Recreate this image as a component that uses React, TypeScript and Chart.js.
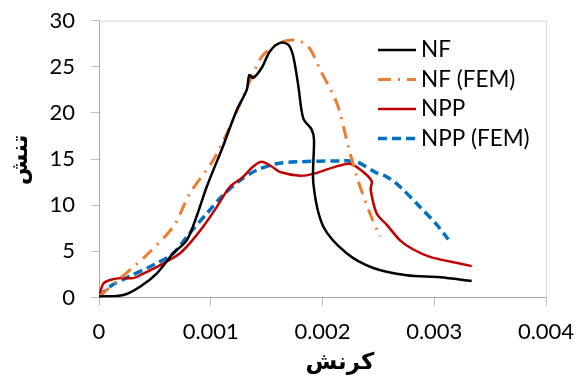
import React, { useEffect, useRef } from "react";
import { Chart, registerables } from "chart.js";

Chart.register(...registerables);

const seriesNames = ["NF", "NF (FEM)", "NPP", "NPP (FEM)"];
const seriesColors = ["#000000", "#ED7D31", "#C00000", "#0070C0"];

const nfStrain = [0, 0.000218, 0.000367, 0.000516, 0.000665, 0.000785, 0.000874, 0.000964, 0.00111, 0.001232, 0.001322, 0.001345, 0.00138, 0.001456, 0.00153, 0.00162, 0.001694, 0.001739, 0.001784, 0.001828, 0.001903, 0.001924, 0.001918, 0.002007, 0.002216, 0.002455, 0.002753, 0.00305, 0.003335];
const nfStress = [0.1, 0.27, 1.17, 2.6, 4.8, 6.2, 8.8, 12.0, 16.4, 20.3, 22.5, 24.1, 23.8, 24.9, 26.7, 27.6, 27.4, 26.1, 22.9, 19.4, 18.2, 17.1, 12.4, 7.7, 4.8, 3.2, 2.4, 2.2, 1.8];

const nfFemStrain = [0, 0.000277, 0.000427, 0.000665, 0.000814, 0.001023, 0.001172, 0.001291, 0.00138, 0.00147, 0.00162, 0.001754, 0.001873, 0.001978, 0.002127, 0.002216, 0.002306, 0.002425, 0.002515];
const nfFemStress = [0.1, 3.0, 4.6, 7.7, 11.3, 14.9, 18.5, 21.8, 24.3, 26.3, 27.6, 27.9, 27.2, 24.7, 21.1, 17.1, 13.1, 9.1, 6.6];

const nppStrain = [0, 0.0000385, 0.0000984, 0.000188, 0.000307, 0.000397, 0.000516, 0.000635, 0.000725, 0.000814, 0.000933, 0.001053, 0.001172, 0.001291, 0.00138, 0.001456, 0.001545, 0.00162, 0.001799, 0.001918, 0.002097, 0.002246, 0.002365, 0.00244, 0.002431, 0.002485, 0.002574, 0.002694, 0.002813, 0.002962, 0.003141, 0.003335];
const nppStress = [0.1, 1.5, 1.9, 2.1, 2.1, 2.6, 3.3, 4.1, 4.8, 5.9, 7.7, 9.8, 12.0, 13.1, 14.2, 14.7, 14.2, 13.6, 13.2, 13.4, 14.1, 14.5, 13.6, 12.6, 11.7, 9.1, 7.9, 6.2, 5.2, 4.4, 3.9, 3.4];

const nppFemStrain = [0, 0.0000984, 0.000277, 0.000516, 0.000665, 0.000814, 0.000964, 0.00111, 0.001262, 0.001411, 0.00159, 0.001769, 0.002157, 0.002306, 0.002485, 0.002574, 0.002694, 0.002873, 0.003022, 0.003126];
const nppFemStress = [0.1, 1.2, 2.3, 3.7, 4.8, 7.0, 9.1, 11.1, 12.7, 13.8, 14.5, 14.7, 14.8, 14.7, 13.5, 13.1, 12.0, 9.8, 7.9, 6.3];

const xTickValues = [0, 0.001, 0.002, 0.003, 0.004];
const yTickValues = [0, 5, 10, 15, 20, 25, 30];
const xTitle = "كرنش";
const yTitle = "تنش";

const toPoints = (xs: number[], ys: number[]) => xs.map((x, i) => ({ x, y: ys[i] }));

const dashes: number[][] = [[], [13, 7, 2, 7], [], [9, 5]];
const widths = [2.5, 3, 2.5, 3.5];

const decorPlugin = {
  id: "decor",
  beforeDatasetsDraw(chart: any) {
    const { ctx, chartArea: a } = chart;
    ctx.save();
    ctx.strokeStyle = "#d9d9d9";
    ctx.lineWidth = 1;
    ctx.beginPath();
    ctx.moveTo(a.left, a.top + 0.5);
    ctx.lineTo(a.right + 0.5, a.top + 0.5);
    ctx.lineTo(a.right + 0.5, a.bottom);
    ctx.stroke();
    ctx.restore();
  },
  afterDraw(chart: any) {
    const { ctx } = chart;
    ctx.save();
    // legend
    const lx0 = 378, lx1 = 416, tx = 421, y0 = 50, dy = 29.5;
    ctx.font = '22.5px Lato';
    ctx.textBaseline = "middle";
    ctx.textAlign = "left";
    seriesNames.forEach((name, i) => {
      const y = y0 + i * dy;
      ctx.beginPath();
      ctx.setLineDash(dashes[i]);
      ctx.strokeStyle = seriesColors[i];
      ctx.lineWidth = widths[i];
      ctx.moveTo(lx0, y);
      ctx.lineTo(lx1, y);
      ctx.stroke();
      ctx.setLineDash([]);
      ctx.fillStyle = "#000";
      ctx.fillText(name, tx, y);
    });
    // axis titles
    ctx.font = 'bold 23px "DejaVu Sans"';
    ctx.fillStyle = "#000";
    ctx.textAlign = "center";
    ctx.textBaseline = "middle";
    ctx.fillText(xTitle, 340, 363);
    ctx.translate(21, 160);
    ctx.rotate(-Math.PI / 2);
    ctx.fillText(yTitle, 0, 0);
    ctx.restore();
  },
};

export default function App() {
  const ref = useRef<HTMLCanvasElement | null>(null);
  useEffect(() => {
    if (!ref.current) return;
    const data = [
      toPoints(nfStrain, nfStress),
      toPoints(nfFemStrain, nfFemStress),
      toPoints(nppStrain, nppStress),
      toPoints(nppFemStrain, nppFemStress),
    ];
    const chart = new Chart(ref.current, {
      type: "scatter",
      data: {
        datasets: seriesNames.map((label, i) => ({
          label,
          data: data[i],
          showLine: true,
          borderColor: seriesColors[i],
          backgroundColor: seriesColors[i],
          borderWidth: widths[i],
          borderDash: dashes[i],
          pointRadius: 0,
          tension: 0.3,
          fill: false,
        })),
      },
      options: {
        animation: false,
        responsive: false,
        layout: { padding: { left: 0, top: 20.7, right: 33, bottom: 0 } },
        plugins: { legend: { display: false }, tooltip: { enabled: false } },
        scales: {
          x: {
            type: "linear",
            min: 0,
            max: 0.004,
            afterFit: (s: any) => { s.height = 81.5; s.paddingLeft = 0; s.paddingRight = 0; },
            afterBuildTicks: (s: any) => { s.ticks = xTickValues.map((v) => ({ value: v })); },
            ticks: {
              color: "#000",
              font: { family: "Lato", size: 22 },
              padding: 13,
              maxRotation: 0,
              callback: (v: any) => (v === 0 ? "0" : Number(v).toFixed(3)),
            },
            grid: { display: true, drawOnChartArea: false, drawTicks: true, tickLength: 8, color: "#bfbfbf" },
            border: { display: true, color: "#a6a6a6" },
          },
          y: {
            type: "linear",
            min: 0,
            max: 30,
            afterFit: (s: any) => { s.width = 99; s.paddingTop = 0; s.paddingBottom = 0; },
            afterBuildTicks: (s: any) => { s.ticks = yTickValues.map((v) => ({ value: v })); },
            ticks: {
              color: "#000",
              font: { family: "Lato", size: 22 },
              padding: 16,
            },
            grid: { display: true, drawOnChartArea: false, drawTicks: true, tickLength: 8, color: "#bfbfbf" },
            border: { display: true, color: "#a6a6a6" },
          },
        },
      },
      plugins: [decorPlugin],
    });
    return () => chart.destroy();
  }, []);
  return (
    <div style={{ position: "fixed", left: 0, top: 0, width: 579, height: 379, background: "#fff" }}>
      <canvas ref={ref} width={579} height={379} style={{ width: 579, height: 379 }} />
    </div>
  );
}
